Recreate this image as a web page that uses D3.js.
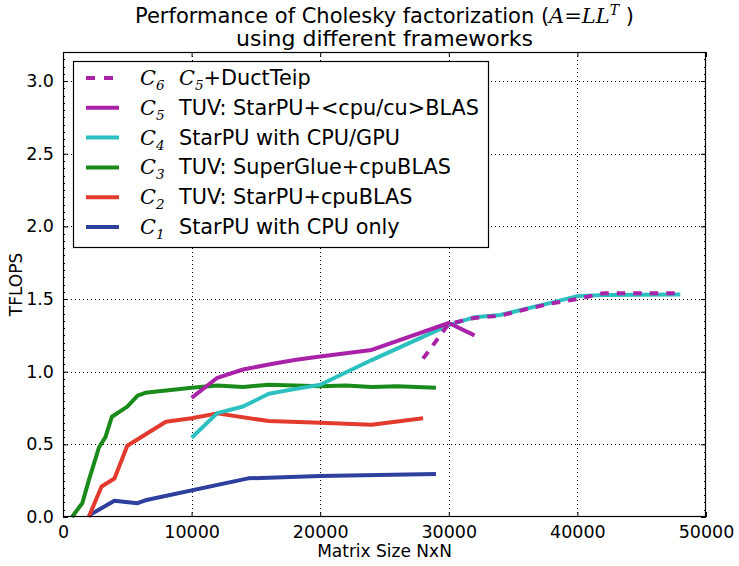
<!DOCTYPE html>
<html>
<head>
<meta charset="utf-8">
<script src="https://cdn.jsdelivr.net/npm/d3@7"></script>
<style>
  html, body { margin: 0; padding: 0; background: #fff; }
  svg { display: block; }
  text { font-family: "DejaVu Sans", sans-serif; fill: #000; }
</style>
</head>
<body>
<svg id="chart" width="739" height="566"></svg>
<script>
// ---------------- data ----------------
const xTicks = [0, 10000, 20000, 30000, 40000, 50000];
const yTicks = [0.0, 0.5, 1.0, 1.5, 2.0, 2.5, 3.0];

const c1 = [[2000,0.01],[4000,0.112],[5800,0.095],[6400,0.115],[14400,0.266],[20000,0.282],[29000,0.296]];
const c2 = [[2000,0.0],[3000,0.21],[4000,0.265],[5000,0.49],[8000,0.655],[10000,0.68],[12000,0.713],[16000,0.66],[20000,0.648],[24000,0.635],[28000,0.68]];
const c3 = [[700,0.0],[1200,0.06],[1500,0.095],[2000,0.25],[2800,0.48],[3300,0.55],[3800,0.69],[5000,0.76],[5800,0.835],[6400,0.855],[10000,0.89],[12000,0.905],[14000,0.895],[16000,0.91],[18000,0.905],[20000,0.9],[22000,0.905],[24000,0.895],[26000,0.9],[29000,0.89]];
const c4 = [[10000,0.545],[12000,0.715],[14000,0.76],[16000,0.848],[18000,0.88],[20000,0.91],[24000,1.08],[30000,1.32],[32000,1.375],[34000,1.39],[38000,1.475],[40000,1.52],[42000,1.528],[48000,1.532]];
const c5 = [[10000,0.82],[12000,0.958],[14000,1.015],[16000,1.05],[18000,1.08],[20000,1.105],[24000,1.15],[30000,1.335],[32000,1.25]];
const c6 = [[28000,1.09],[30000,1.33],[31000,1.35],[32000,1.37],[34000,1.385],[36000,1.43],[38000,1.47],[40000,1.5],[42000,1.54],[48000,1.54]];

const seriesKeys = ["1","2","3","4","5","6"];
const seriesLabels = ["StarPU with CPU only","TUV: StarPU+cpuBLAS","TUV: SuperGlue+cpuBLAS","StarPU with CPU/GPU","TUV: StarPU+<cpu/cu>BLAS","+DuctTeip"];
const seriesColors = ["#2f3f9e","#e23b2d","#1a8a1a","#2dc0c0","#aa22a8","#aa22a8"];
const seriesData = [c1, c2, c3, c4, c5, c6];

// ---------------- layout ----------------
const svg = d3.select("#chart");
const L = 63, R = 706, T = 52, B = 517;
const x = d3.scaleLinear().domain([0, 50000]).range([L, R]);
const y = d3.scaleLinear().domain([0, 3.2]).range([B, T]);

// grid
const grid = svg.append("g").attr("stroke", "#000").attr("stroke-width", 1).attr("stroke-dasharray", "1,3");
grid.selectAll("line.gx").data(xTicks.filter(d => d > 0 && d < 50000)).join("line")
  .attr("x1", d => Math.round(x(d)) + 0.5).attr("x2", d => Math.round(x(d)) + 0.5)
  .attr("y1", T).attr("y2", B);
grid.selectAll("line.gy").data(yTicks.filter(d => d > 0)).join("line")
  .attr("y1", d => Math.round(y(d)) + 0.5).attr("y2", d => Math.round(y(d)) + 0.5)
  .attr("x1", L).attr("x2", R);

// minor ticks on y (inside, left & right)
const minor = d3.range(0, 3.2001, 0.05);
const mt = svg.append("g").attr("stroke", "#000").attr("stroke-width", 1);
minor.forEach(v => {
  const yy = Math.round(y(v)) + 0.5;
  mt.append("line").attr("x1", L).attr("x2", L + 2).attr("y1", yy).attr("y2", yy);
  mt.append("line").attr("x1", R).attr("x2", R - 2).attr("y1", yy).attr("y2", yy);
});

// axes via d3
const xAxisB = d3.axisBottom(x).tickValues(xTicks).tickSize(-5).tickPadding(9).tickFormat(d3.format("d"));
const xAxisT = d3.axisTop(x).tickValues(xTicks).tickSize(-5).tickFormat("");
const yAxisL = d3.axisLeft(y).tickValues(yTicks).tickSize(-5).tickPadding(9).tickFormat(d3.format(".1f"));
const yAxisR = d3.axisRight(y).tickValues(yTicks).tickSize(-5).tickFormat("");

function style(g) {
  g.select(".domain").remove();
  g.selectAll("line").attr("stroke", "#000");
  g.selectAll("text").attr("font-size", 17.5).attr("font-family", "DejaVu Sans, sans-serif").attr("fill", "#000");
}
svg.append("g").attr("transform", `translate(0,${B})`).call(xAxisB).call(style);
svg.append("g").attr("transform", `translate(0,${T})`).call(xAxisT).call(style);
svg.append("g").attr("transform", `translate(${L},0)`).call(yAxisL).call(style);
svg.append("g").attr("transform", `translate(${R},0)`).call(yAxisR).call(style);

// series
const line = d3.line().x(d => x(d[0])).y(d => y(d[1]));
const plot = svg.append("g");
seriesData.forEach((data, i) => {
  plot.append("path").datum(data)
    .attr("d", line)
    .attr("fill", "none")
    .attr("stroke", seriesColors[i])
    .attr("stroke-width", 4)
    .attr("stroke-linejoin", "round")
    .attr("stroke-dasharray", i === 5 ? "8.5,8" : null);
});

// frame
svg.append("rect").attr("x", L + 0.5).attr("y", T + 0.5).attr("width", R - L - 1).attr("height", B - T - 1)
  .attr("fill", "none").attr("stroke", "#000").attr("stroke-width", 1.2);

// title
const title = svg.append("text").attr("x", (L + R) / 2).attr("y", 23).attr("text-anchor", "middle").attr("font-size", 21);
title.append("tspan").text("Performance of Cholesky factorization (");
title.append("tspan").attr("font-family", "DejaVu Serif, serif").attr("font-style", "italic").text("A");
title.append("tspan").attr("font-family", "DejaVu Serif, serif").text("=");
title.append("tspan").attr("font-family", "DejaVu Serif, serif").attr("font-style", "italic").text("LL");
title.append("tspan").attr("font-family", "DejaVu Serif, serif").attr("font-style", "italic").attr("font-size", 14).attr("dy", -8).text("T");
title.append("tspan").attr("dy", 8).text(" )");
svg.append("text").attr("x", (L + R) / 2).attr("y", 46).attr("text-anchor", "middle").attr("font-size", 22)
  .text("using different frameworks");

// axis labels
svg.append("text").attr("x", (L + R) / 2).attr("y", 557).attr("text-anchor", "middle").attr("font-size", 17).text("Matrix Size NxN");
svg.append("text").attr("transform", `translate(22,${(T + B) / 2}) rotate(-90)`).attr("text-anchor", "middle").attr("font-size", 17).text("TFLOPS");

// legend
const lg = svg.append("g");
lg.append("rect").attr("x", 73.5).attr("y", 61.5).attr("width", 415).attr("height", 186)
  .attr("fill", "#fff").attr("stroke", "#000").attr("stroke-width", 1.2);
const order = [5, 4, 3, 2, 1, 0];
order.forEach((si, r) => {
  const yy = 78 + r * 29.8;
  lg.append("line").attr("x1", 86).attr("x2", 119).attr("y1", yy).attr("y2", yy)
    .attr("stroke", seriesColors[si]).attr("stroke-width", 4)
    .attr("stroke-dasharray", si === 5 ? "9,9" : null);
  const t = lg.append("text").attr("x", 140).attr("y", yy + 7).attr("font-size", 20.8);
  t.append("tspan").attr("font-family", "DejaVu Serif, serif").attr("font-style", "italic").text("C");
  t.append("tspan").attr("font-family", "DejaVu Serif, serif").attr("font-style", "italic").attr("font-size", 13.5).attr("dy", 5).text(seriesKeys[si]);
  const t2 = lg.append("text").attr("x", 179).attr("y", yy + 7).attr("font-size", 20.8);
  if (si === 5) {
    t2.append("tspan").attr("font-family", "DejaVu Serif, serif").attr("font-style", "italic").text("C");
    t2.append("tspan").attr("font-family", "DejaVu Serif, serif").attr("font-style", "italic").attr("font-size", 13.5).attr("dy", 5).text("5");
    t2.append("tspan").attr("dy", -5).text(seriesLabels[si]);
  } else {
    t2.text(seriesLabels[si]);
  }
});
</script>
</body>
</html>
